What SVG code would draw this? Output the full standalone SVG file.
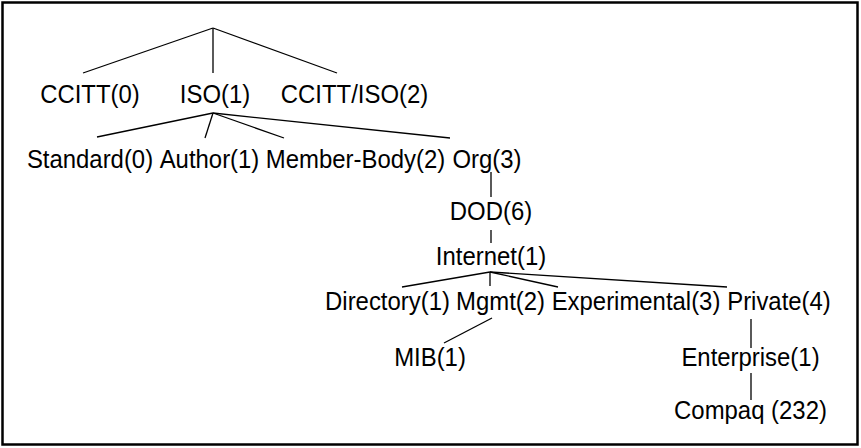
<svg xmlns="http://www.w3.org/2000/svg" width="861" height="448" viewBox="0 0 861 448">
<style>
text{font-family:"Liberation Sans",Arial,sans-serif;font-size:26px;fill:#000;text-anchor:middle}
.c line{stroke:#000;stroke-width:1.3}
</style>
<rect width="861" height="448" fill="#fff"/>
<rect x="2.5" y="2.5" width="855" height="442" fill="none" stroke="#000" stroke-width="2.5"/>
<g class="c" id="connectors">
<line x1="213" y1="28" x2="83" y2="73"/>
<line x1="213" y1="28" x2="213" y2="73"/>
<line x1="213" y1="28" x2="337" y2="73"/>
<line x1="213" y1="113" x2="97" y2="137"/>
<line x1="213" y1="113" x2="205" y2="138"/>
<line x1="213" y1="113" x2="284" y2="138"/>
<line x1="213" y1="113" x2="450" y2="138"/>
<line x1="491" y1="172" x2="491" y2="197"/>
<line x1="491" y1="230" x2="491" y2="243"/>
<line x1="490" y1="272" x2="402" y2="287"/>
<line x1="490" y1="272" x2="490" y2="286"/>
<line x1="490" y1="272" x2="558" y2="287"/>
<line x1="490" y1="272" x2="727" y2="287"/>
<line x1="492" y1="318" x2="444" y2="343"/>
<line x1="751" y1="319" x2="751" y2="348"/>
<line x1="751" y1="373" x2="751" y2="400"/>
</g>
<g id="ccitt"><text transform="translate(90,103) scale(0.92,1)">CCITT(0)</text></g>
<g id="iso"><text transform="translate(215,103) scale(0.92,1)">ISO(1)</text></g>
<g id="ccitt-iso"><text transform="translate(354.5,103) scale(0.92,1)">CCITT/ISO(2)</text></g>
<g id="standard"><text transform="translate(90,168) scale(0.92,1)">Standard(0)</text></g>
<g id="author"><text transform="translate(209.5,168) scale(0.92,1)">Author(1)</text></g>
<g id="member-body"><text transform="translate(355.5,168) scale(0.92,1)">Member-Body(2)</text></g>
<g id="org"><text transform="translate(487,168) scale(0.92,1)">Org(3)</text></g>
<g id="dod"><text transform="translate(491,220) scale(0.92,1)">DOD(6)</text></g>
<g id="internet"><text transform="translate(491,265) scale(0.92,1)">Internet(1)</text></g>
<g id="directory"><text transform="translate(387.5,310) scale(0.92,1)">Directory(1)</text></g>
<g id="mgmt"><text transform="translate(500.5,310) scale(0.92,1)">Mgmt(2)</text></g>
<g id="experimental"><text transform="translate(636,310) scale(0.92,1)">Experimental(3)</text></g>
<g id="private"><text transform="translate(779,310) scale(0.92,1)">Private(4)</text></g>
<g id="mib"><text transform="translate(430,366) scale(0.92,1)">MIB(1)</text></g>
<g id="enterprise"><text transform="translate(750.5,366) scale(0.92,1)">Enterprise(1)</text></g>
<g id="compaq"><text transform="translate(750.5,419) scale(0.92,1)">Compaq (232)</text></g>
</svg>
